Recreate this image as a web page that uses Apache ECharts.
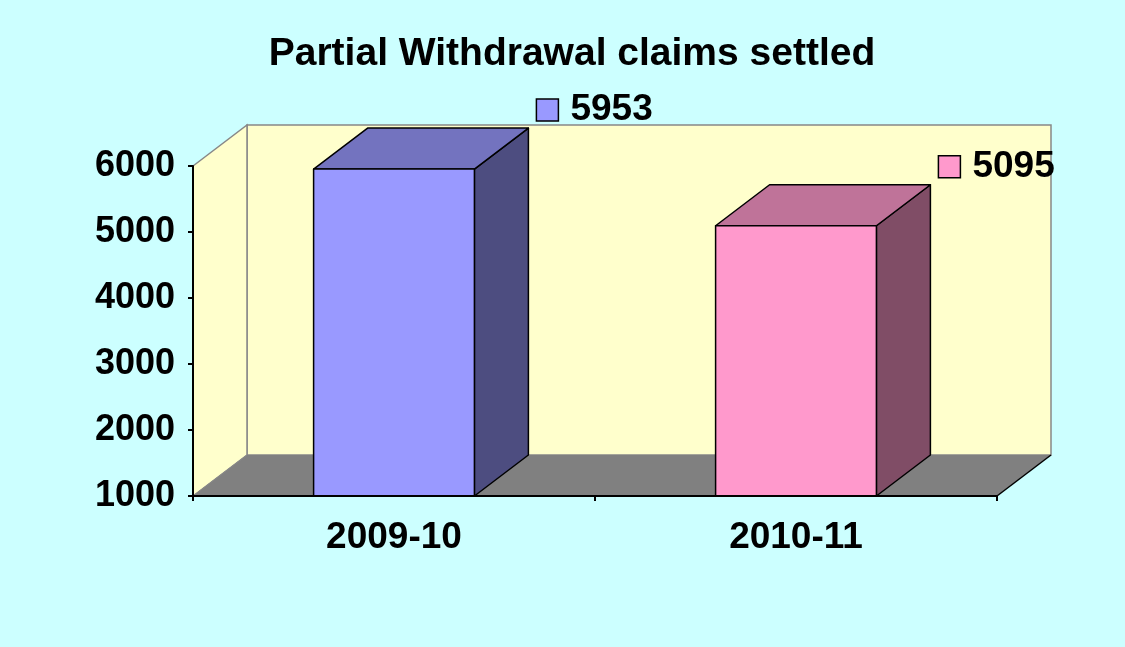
<!DOCTYPE html>
<html>
<head>
<meta charset="utf-8">
<script src="https://cdn.jsdelivr.net/npm/echarts@6/dist/echarts.min.js"></script>
<style>
  html, body { margin: 0; padding: 0; background: #CCFFFF; }
  #main { width: 1125px; height: 647px; }
</style>
</head>
<body>
<div id="main"></div>
<script>
// data
var categories = ['2009-10', '2010-11'];
var claimsSettled = [5953, 5095];
var barColors = ['#9999FF', '#FF99CC'];
var topColors = ['#7373BF', '#BF7399'];
var sideColors = ['#4D4D80', '#804D66'];
var yMin = 1000, yMax = 6000, yStep = 1000;

var FONT = '"Liberation Sans", Arial, sans-serif';
// 3d depth offset of the plot box
var dx = 54, dy = -41;

var myChart = echarts.init(document.getElementById('main'));

function renderWalls(params, api) {
    var cs = params.coordSys;
    var x0 = cs.x, y0 = cs.y, x1 = cs.x + cs.width, y1 = cs.y + cs.height;
    return {
        type: 'group',
        children: [
            { // back wall
                type: 'rect',
                shape: { x: x0 + dx, y: y0 + dy, width: x1 - x0, height: y1 - y0 },
                style: { fill: '#FFFFCC', stroke: '#888888', lineWidth: 1.5 }
            },
            { // left wall
                type: 'polygon',
                shape: { points: [[x0, y0], [x0 + dx, y0 + dy], [x0 + dx, y1 + dy], [x0, y1]] },
                style: { fill: '#FFFFCC', stroke: '#888888', lineWidth: 1.5 }
            },
            { // floor
                type: 'polygon',
                shape: { points: [[x0, y1], [x1, y1], [x1 + dx, y1 + dy], [x0 + dx, y1 + dy]] },
                style: { fill: '#808080', stroke: null }
            },
            {
                type: 'line',
                shape: { x1: x1, y1: y1, x2: x1 + dx, y2: y1 + dy },
                style: { stroke: '#000', lineWidth: 1.5 }
            },
            {
                type: 'line',
                shape: { x1: x0, y1: y1, x2: x0 + dx, y2: y1 + dy },
                style: { stroke: '#888888', lineWidth: 1 }
            }
        ]
    };
}

function renderBar(params, api) {
    var i = params.dataIndex;
    var top = api.coord([api.value(0), api.value(1)]);
    var base = api.coord([api.value(0), yMin]);
    var w = api.size([1, 0])[0] * 0.4;
    var xl = top[0] - w / 2, xr = top[0] + w / 2;
    var yt = top[1], yb = base[1];
    var edge = { stroke: '#000', lineWidth: 1.5, lineJoin: 'round' };
    var lx = xr + dx + 8, ly = yt + dy - 18;
    return {
        type: 'group',
        children: [
            {
                type: 'polygon',
                shape: { points: [[xr, yt], [xr + dx, yt + dy], [xr + dx, yb + dy], [xr, yb]] },
                style: Object.assign({ fill: sideColors[i] }, edge)
            },
            {
                type: 'polygon',
                shape: { points: [[xl, yt], [xr, yt], [xr + dx, yt + dy], [xl + dx, yt + dy]] },
                style: Object.assign({ fill: topColors[i] }, edge)
            },
            {
                type: 'rect',
                shape: { x: xl, y: yt, width: w, height: yb - yt },
                style: Object.assign({ fill: barColors[i] }, edge)
            },
            // value label with legend key
            {
                type: 'rect',
                shape: { x: lx, y: ly - 11, width: 22, height: 22 },
                style: { fill: barColors[i], stroke: '#000', lineWidth: 1.5 }
            },
            {
                type: 'text',
                style: {
                    x: lx + 34, y: ly,
                    text: String(api.value(1)),
                    fill: '#000',
                    font: 'bold 37px ' + FONT,
                    verticalAlign: 'middle'
                }
            }
        ]
    };
}

var option = {
    backgroundColor: '#CCFFFF',
    animation: false,
    title: {
        text: 'Partial Withdrawal claims settled',
        left: 567,
        textAlign: 'center',
        top: 30,
        textStyle: {
            color: '#000',
            fontFamily: FONT,
            fontWeight: 'bold',
            fontSize: 39
        }
    },
    grid: {
        left: 193,
        right: 128,
        top: 166,
        bottom: 151,
        containLabel: false
    },
    xAxis: {
        type: 'category',
        data: categories,
        z: 5,
        axisLine: { lineStyle: { color: '#000', width: 2 } },
        axisTick: { show: true, length: 5, lineStyle: { color: '#000', width: 2 } },
        axisLabel: {
            color: '#000',
            fontFamily: FONT,
            fontWeight: 'bold',
            fontSize: 37,
            margin: 23
        },
        splitLine: { show: false }
    },
    yAxis: {
        type: 'value',
        min: yMin,
        max: yMax,
        interval: yStep,
        z: 5,
        axisLine: { show: true, lineStyle: { color: '#000', width: 2 } },
        axisTick: { show: true, length: 5, lineStyle: { color: '#000', width: 2 } },
        axisLabel: {
            color: '#000',
            fontFamily: FONT,
            fontWeight: 'bold',
            fontSize: 36,
            margin: 18,
            formatter: function (v) { return String(v); }
        },
        splitLine: { show: false }
    },
    series: [
        {
            type: 'custom',
            z: 1,
            silent: true,
            renderItem: renderWalls,
            data: [[0, yMin]]
        },
        {
            type: 'custom',
            z: 2,
            renderItem: renderBar,
            encode: { x: 0, y: 1 },
            data: categories.map(function (c, i) { return [i, claimsSettled[i]]; })
        }
    ]
};

myChart.setOption(option);
window.addEventListener('resize', function () {
    myChart.resize();
});
</script>
</body>
</html>
